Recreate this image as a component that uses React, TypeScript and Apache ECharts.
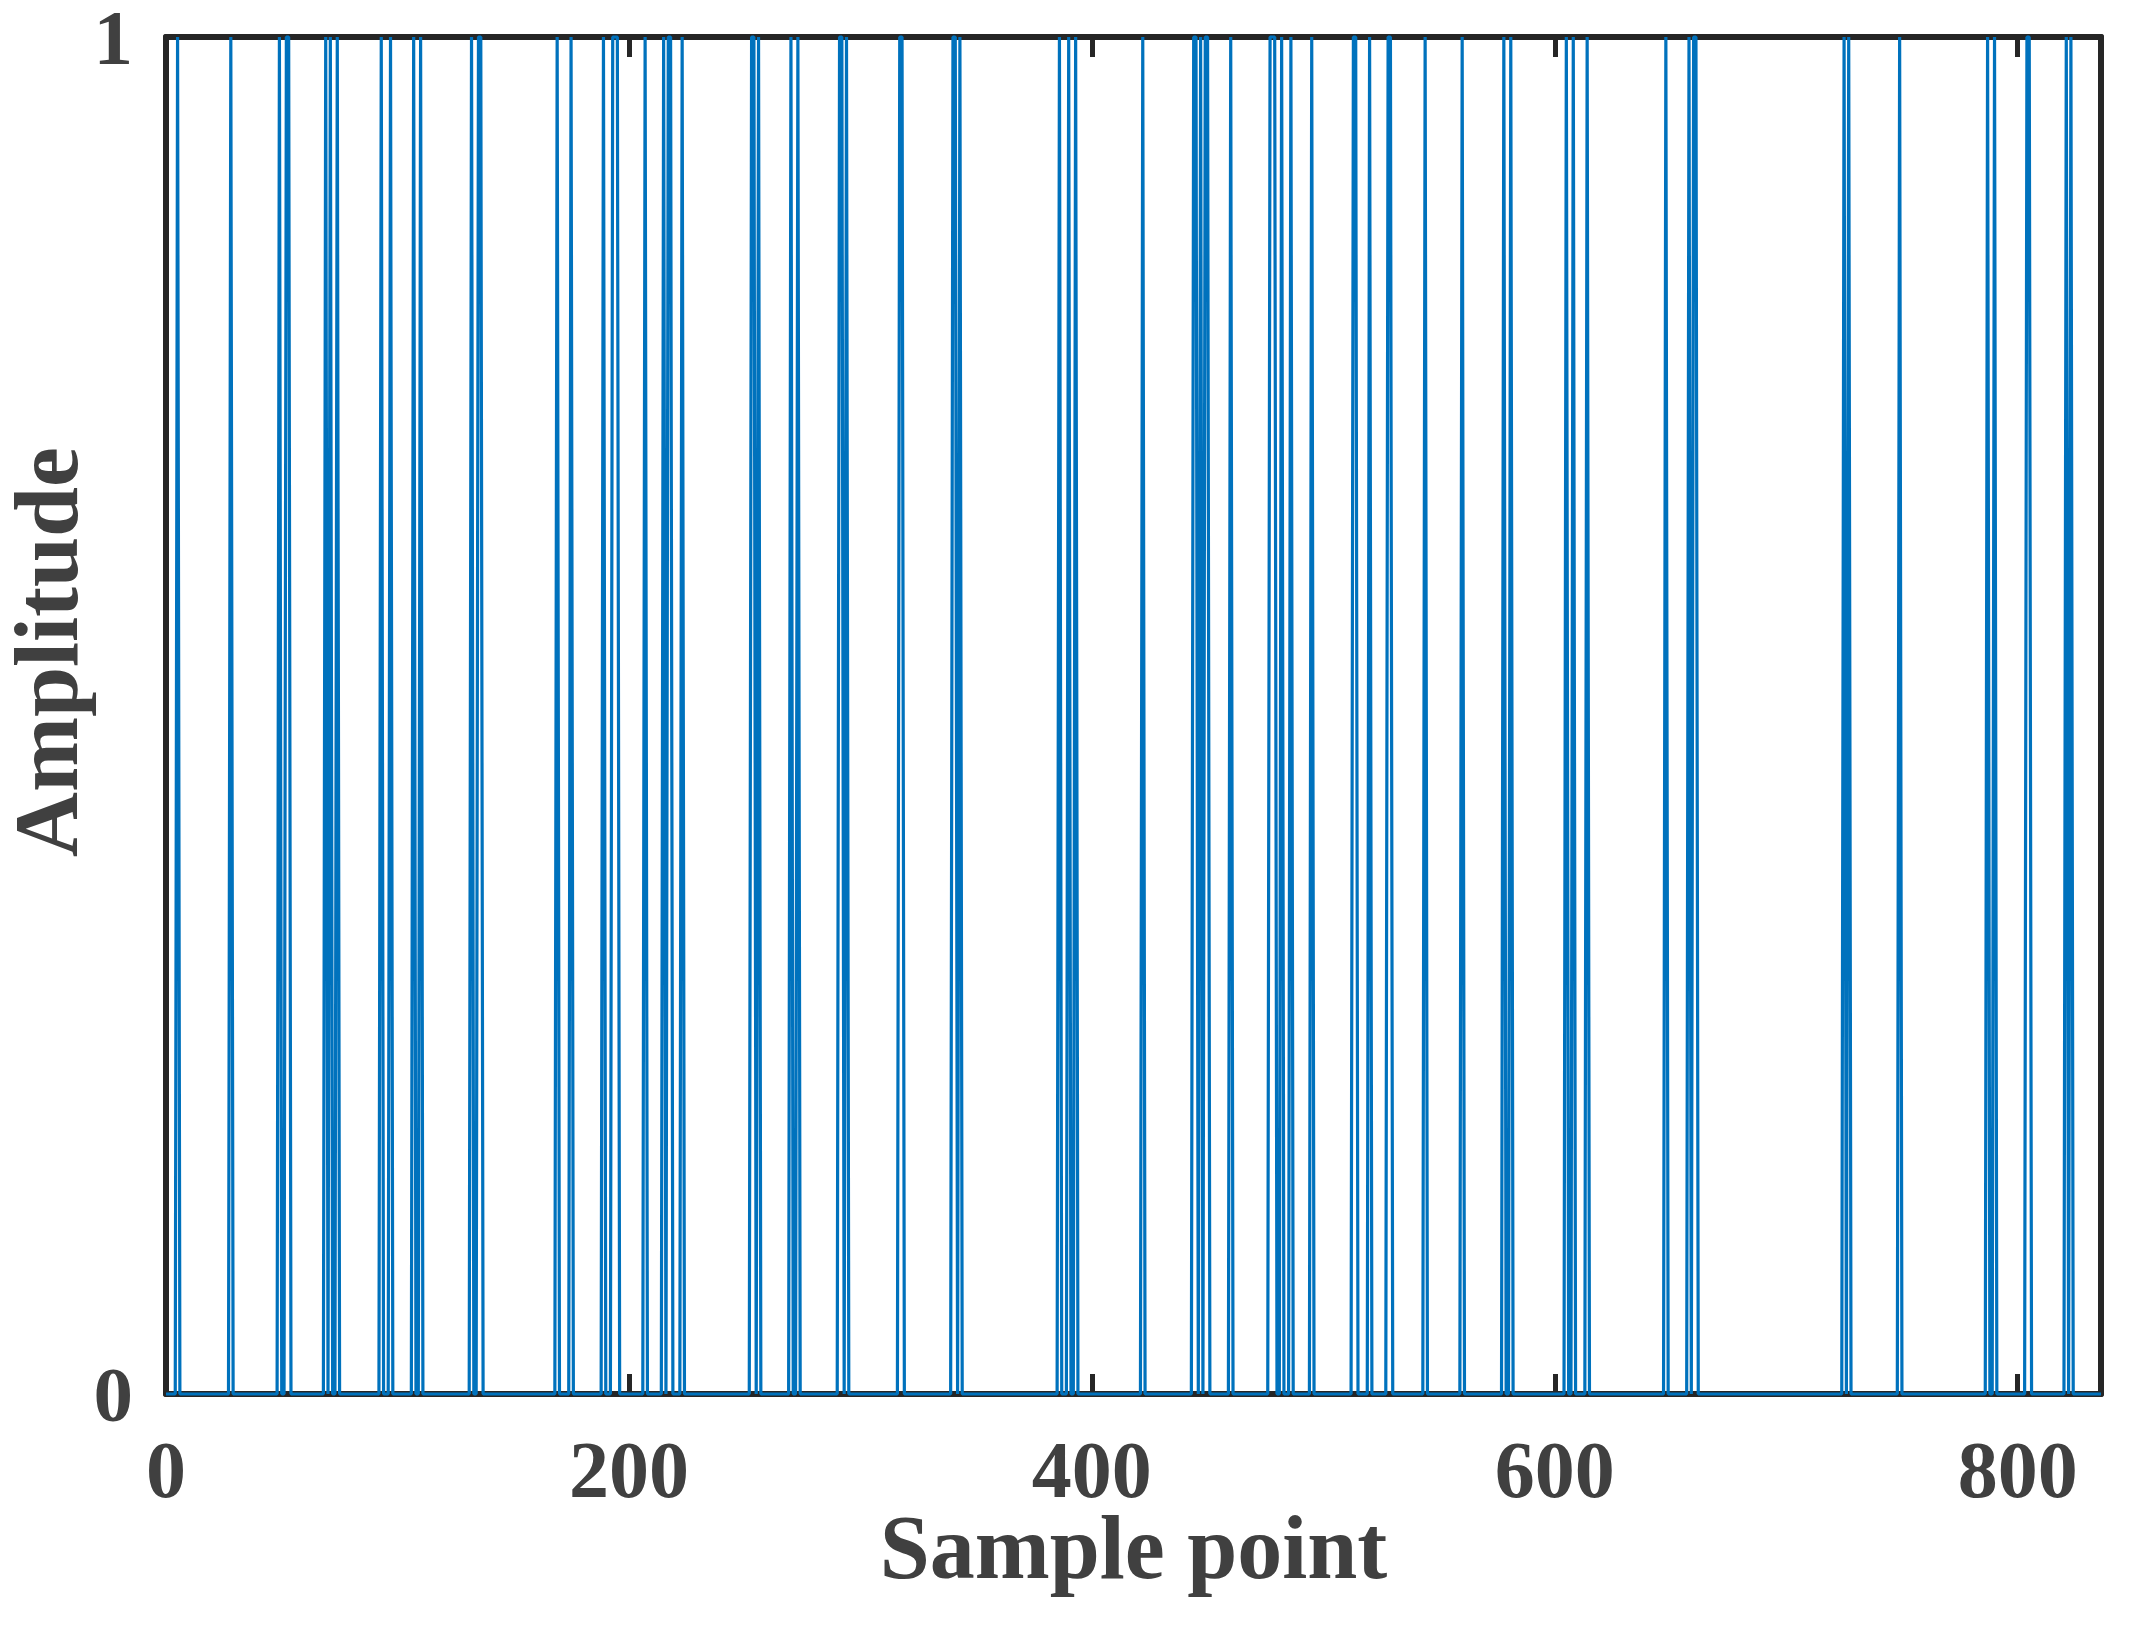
import React, { useEffect, useRef } from "react";
import * as echarts from "echarts";

// Last sample index shown on the x axis
const LAST_SAMPLE = 836;

// Runs of samples at amplitude 1 (start, end); all other samples are 0
const PULSE_STARTS = [
  5, 28, 49, 52, 69, 71, 74, 93, 97, 107, 110, 132, 135,
  169, 175, 189, 193, 207, 215, 217, 223, 253, 256, 270, 273,
  291, 294, 317, 340, 343, 386, 390, 393, 422,
  444, 447, 449, 460, 477, 482, 486, 495, 513, 520, 528, 544, 560,
  578, 581, 605, 608, 614, 648, 658, 660,
  725, 727, 749, 787, 790, 804, 821, 823,
];
const PULSE_ENDS = [
  5, 28, 49, 53, 69, 71, 74, 93, 97, 107, 110, 132, 136,
  169, 175, 189, 195, 207, 215, 218, 223, 254, 256, 270, 273,
  292, 294, 318, 341, 343, 386, 390, 393, 422,
  445, 447, 450, 460, 479, 482, 486, 495, 514, 520, 529, 544, 560,
  578, 581, 605, 608, 614, 648, 658, 661,
  725, 727, 749, 787, 790, 805, 821, 823,
];

const X_TICK_INTERVAL = 200;
const Y_TICKS = [0, 1];
const Y_TITLE = "Amplitude";
const X_TITLE = "Sample point";

const FONT = "'Liberation Serif', 'Times New Roman', serif";
const TEXT_COLOR = "#404040";
const AXIS_COLOR = "#262626";
const LINE_COLOR = "#0072BD";

function buildSignal(): [number, number][] {
  const amp: number[] = new Array(LAST_SAMPLE + 1).fill(0);
  PULSE_STARTS.forEach((s, i) => {
    for (let k = s; k <= PULSE_ENDS[i]; k++) amp[k] = 1;
  });
  return amp.map((v, i) => [i, v] as [number, number]);
}

export default function App() {
  const ref = useRef<HTMLDivElement>(null);

  useEffect(() => {
    if (!ref.current) return;
    const chart = echarts.init(ref.current, null, { renderer: "svg" });
    const axisLine = { show: true, onZero: false, lineStyle: { color: AXIS_COLOR, width: 6 } };
    const xTick = { show: true, inside: true, length: 20, lineStyle: { color: AXIS_COLOR, width: 5 } };
    chart.setOption({
      animation: false,
      backgroundColor: "#ffffff",
      grid: {
        left: 166,
        right: 33,
        top: 37,
        bottom: 234,
        containLabel: false,
        outerBoundsMode: "none",
      },
      graphic: [
        {
          type: "text",
          x: 46,
          y: 652,
          rotation: Math.PI / 2,
          style: {
            text: Y_TITLE,
            fontFamily: FONT,
            fontWeight: "bold",
            fontSize: 90,
            fill: TEXT_COLOR,
            align: "center",
            verticalAlign: "middle",
          },
        },
      ],
      xAxis: [
        {
          type: "value",
          position: "bottom",
          min: 0,
          max: LAST_SAMPLE,
          interval: X_TICK_INTERVAL,
          name: X_TITLE,
          nameLocation: "middle",
          nameGap: 118,
          nameMoveOverlap: false,
          nameTextStyle: {
            fontFamily: FONT,
            fontWeight: "bold",
            fontSize: 90,
            lineHeight: 70,
            color: TEXT_COLOR,
          },
          axisLine,
          axisTick: xTick,
          axisLabel: {
            show: true,
            margin: 36,
            showMaxLabel: false,
            fontFamily: FONT,
            fontWeight: "bold",
            fontSize: 80,
            color: TEXT_COLOR,
          },
          splitLine: { show: false },
        },
        {
          type: "value",
          position: "top",
          min: 0,
          max: LAST_SAMPLE,
          interval: X_TICK_INTERVAL,
          axisLine,
          axisTick: xTick,
          axisLabel: { show: false },
          splitLine: { show: false },
        },
      ],
      yAxis: [
        {
          type: "value",
          position: "left",
          min: Y_TICKS[0],
          max: Y_TICKS[Y_TICKS.length - 1],
          interval: 1,
          axisLine,
          axisTick: { show: false },
          axisLabel: {
            show: true,
            margin: 33,
            fontFamily: FONT,
            fontWeight: "bold",
            fontSize: 79,
            lineHeight: 60,
            color: TEXT_COLOR,
          },
          splitLine: { show: false },
        },
        {
          type: "value",
          position: "right",
          min: Y_TICKS[0],
          max: Y_TICKS[Y_TICKS.length - 1],
          interval: 1,
          axisLine,
          axisTick: { show: false },
          axisLabel: { show: false },
          splitLine: { show: false },
        },
      ],
      series: [
        {
          type: "line",
          xAxisIndex: 0,
          yAxisIndex: 0,
          data: buildSignal(),
          showSymbol: false,
          symbol: "none",
          clip: false,
          z: 5,
          lineStyle: { color: LINE_COLOR, width: 3.2 },
        },
      ],
    });
    return () => chart.dispose();
  }, []);

  return (
    <div
      ref={ref}
      style={{ position: "absolute", left: 0, top: 0, width: 2134, height: 1628, background: "#fff" }}
    />
  );
}
